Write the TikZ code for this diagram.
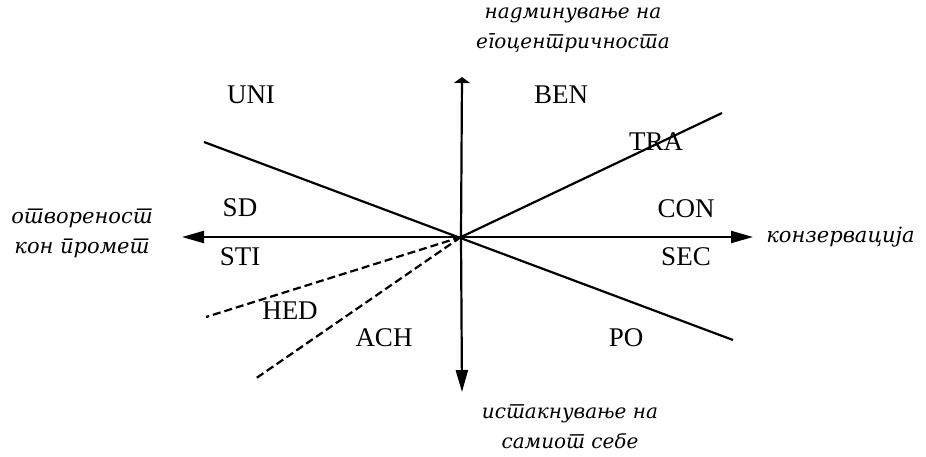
\documentclass[tikz,border=0pt]{standalone}
\usepackage{fontspec}
\setmainfont{Liberation Serif}
\newfontfamily\mkfont[Script=Cyrillic,Language=Serbian]{DejaVu Serif}
\usetikzlibrary{arrows.meta}

\begin{document}
\begin{tikzpicture}[x=1pt,y=-1pt,line width=2.2pt,>={Triangle[length=22pt,width=12pt]},
	value/.style={font=\fontsize{27}{30}\selectfont},
	pole/.style={font=\fontsize{21}{30}\selectfont\mkfont\itshape,align=center}]
	\useasboundingbox (0,0) rectangle (926,456);
	\coordinate (O) at (461,237);
	% axis ends
	\coordinate (left) at (182,237);
	\coordinate (right) at (753,237);
	\coordinate (up) at (462,77);
	\coordinate (down) at (462,392);
	\draw[->] (O) -- (left);
	\draw[->] (O) -- (right);
	\draw[-{Triangle[length=6pt,width=16pt]}] (O) -- (up);
	\draw[->] (O) -- (down);
	% borders between the value sectors
	\coordinate (UNIend) at (204,142);
	\coordinate (POend) at (733,340);
	\coordinate (TRAend) at (722,113);
	\coordinate (HEDend) at (206,317);
	\coordinate (ACHend) at (255,379);
	\draw (UNIend) -- (POend);
	\draw (O) -- (TRAend);
	\draw[dashed,dash pattern=on 8pt off 4pt] (O) -- (HEDend);
	\draw[dashed,dash pattern=on 8pt off 4pt] (O) -- (ACHend);
	% values
	\node[value] (UNI) at (251,95) {UNI};
	\node[value] (BEN) at (561,95) {BEN};
	\node[value] (TRA) at (656,142) {TRA};
	\node[value] (SD) at (240,208) {SD};
	\node[value] (STI) at (240,257) {STI};
	\node[value] (CON) at (686,209) {CON};
	\node[value] (SEC) at (686,257) {SEC};
	\node[value] (HED) at (290,311) {HED};
	\node[value] (ACH) at (384,338) {ACH};
	\node[value] (PO) at (626,338) {PO};
	% poles
	\node[pole,font=\fontsize{20}{30}\selectfont\mkfont\itshape] (ST) at (573,30) {надминување на\\егоцентричноста};
	\node[pole] (OC) at (82,233) {отвореност\\кон промет};
	\node[pole,font=\fontsize{20}{30}\selectfont\mkfont\itshape] (SE) at (570,427) {истакнување на\\самиот себе};
	\node[pole,anchor=west] (CO) at (762,237) {конзервација};
\end{tikzpicture}
\end{document}
